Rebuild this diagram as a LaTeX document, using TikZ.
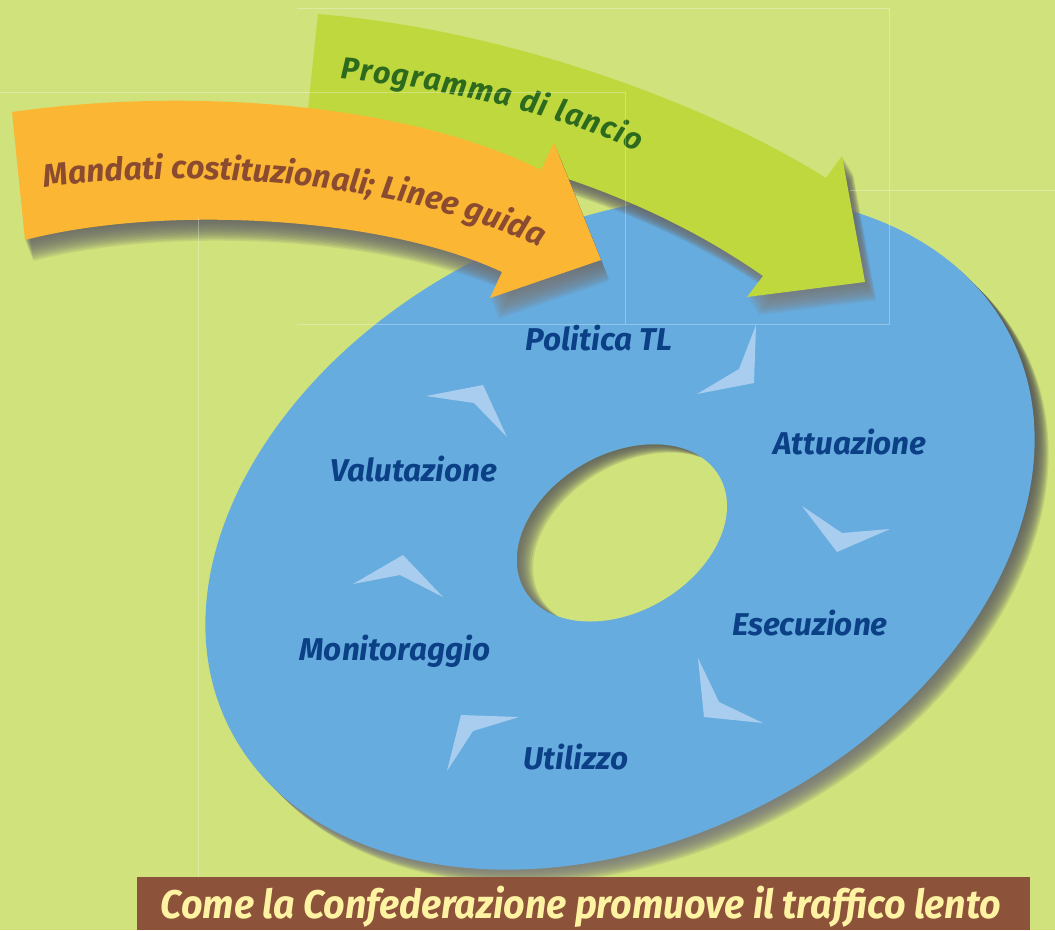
\documentclass[tikz,border=0pt]{standalone}
\usepackage{fontspec}
\usetikzlibrary{decorations.text}
\newfontfamily\labelfont{Fira Sans}
\newfontfamily\bannerfont{Fira Sans}[FakeStretch=0.94]

\definecolor{bg}{HTML}{D0E27B}
\definecolor{ring}{HTML}{66ACDF}
\definecolor{chev}{HTML}{A8CDEF}
\definecolor{orangearr}{HTML}{FBB634}
\definecolor{greenarr}{HTML}{BED83D}
\definecolor{navy}{HTML}{0B3F86}
\definecolor{rust}{HTML}{8A4B30}
\definecolor{leaf}{HTML}{2D6A1E}
\definecolor{banner}{HTML}{8C523A}
\definecolor{cream}{HTML}{FEF3A3}
\definecolor{shade}{HTML}{1A2408}

% outlines reused for fills and shadows
\def\ringpath{[rotate around={26.5:(620,532)}] (620,532) ellipse [x radius=437pt, y radius=308pt]}
\def\holepath{[rotate around={30.3:(622,533)}] (622,533) ellipse [x radius=112.6pt, y radius=78.6pt]}
\def\orangepath{(12,112) .. controls (180,88) and (400,100) .. (541,170) -- (554,143) -- (601,260) -- (490,298) -- (502,272) .. controls (380,215) and (160,205) .. (25,240) -- cycle}
\def\greenpath{(318,14) .. controls (510,30) and (710,105) .. (826,178) -- (842,156) -- (865,282) -- (747,297) -- (763,276) .. controls (640,190) and (480,140) .. (306,128) -- cycle}

\tikzset{
  steplabel/.style={font=\labelfont\bfseries\itshape\fontsize{31.5}{31.5}\selectfont, text=navy, anchor=base, inner sep=0pt},
  chevron/.style={fill=chev},
  faint/.style={draw=white, opacity=0.3, line width=0.8pt},
}

\begin{document}
\begin{tikzpicture}[x=1pt, y=-1pt]
\useasboundingbox (0,0) rectangle (1055,930);
\fill[bg] (0,0) rectangle (1055,930);

% soft shadow of the ring
\foreach \k in {1,...,14} {
  \fill[shade, opacity=0.075, shift={({\k*1.0},{\k*1.0})}] \ringpath;
}
\fill[ring] \ringpath;

% hole with inner shadow
\begin{scope}
  \clip \holepath;
  \fill[bg] (0,0) rectangle (1055,930);
  \foreach \k in {1,...,10} {
    \fill[shade, opacity=0.09, even odd rule, shift={({\k*1.6},{\k*0.8})}]
      (300,200) rectangle (950,850) \holepath;
  }
\end{scope}

% chevrons between the steps
\fill[chevron] (756,325) -- (754,383) -- (697,394) -- (739,369) -- cycle;
\fill[chevron] (802,506) -- (837,552) -- (890,529) -- (842,533) -- cycle;
\fill[chevron] (698,658) -- (704,717) -- (763,723) -- (719,702) -- cycle;
\fill[chevron] (447,771) -- (461,715) -- (519,717) -- (473,731) -- cycle;
\fill[chevron] (353,584) -- (403,555) -- (443,597) -- (400,575) -- cycle;
\fill[chevron] (426,396) -- (483,385) -- (507,437) -- (474,403) -- cycle;

% step labels
\node[steplabel] (politica)  at (599,350) {Politica TL};
\node[steplabel] (attuazione) at (850,454) {Attuazione};
\node[steplabel] (esecuzione) at (810,635) {Esecuzione};
\node[steplabel] (utilizzo)  at (576,769) {Utilizzo};
\node[steplabel] (monitor)   at (395,660) {Monitoraggio};
\node[steplabel] (valutazione) at (414,481) {Valutazione};

% green arrow
\foreach \k in {1,...,14} {
  \fill[shade, opacity=0.07, shift={({\k*0.8},{\k*1.3})}] \greenpath;
}
\fill[greenarr] \greenpath;
\path[decorate, decoration={text along path, text align=fit to path,
  text={|\labelfont\bfseries\itshape\fontsize{30.5}{30.5}\selectfont\color{leaf}|Programma di lancio}}]
  (340,79) .. controls (440,87) and (555,112) .. (637,152);

% orange arrow
\foreach \k in {1,...,14} {
  \fill[shade, opacity=0.07, shift={({\k*0.6},{\k*1.5})}] \orangepath;
}
\fill[orangearr] \orangepath;
\path[decorate, decoration={text along path, text align={left indent=0pt},
  text={|\labelfont\bfseries\itshape\fontsize{32}{32}\selectfont\color{rust}|Mandati costituzionali; Linee guida}}]
  (45,188) .. controls (200,165) and (420,185) .. (548,252);

% faint frame lines
\draw[faint] (297,8) -- (889,8) -- (889,324) -- (297,324);
\draw[faint] (0,92) -- (625,92) -- (625,324);
\draw[faint] (198,218) -- (198,877);
\draw[faint] (850,190) -- (1055,190);

% title banner
\fill[banner] (137,877) rectangle (1030,930);
\node[font=\bannerfont\bfseries\itshape\fontsize{40}{40}\selectfont, text=cream, anchor=base, inner sep=0pt] (title) at (581,918) {Come la Confederazione promuove il traffico lento};
\end{tikzpicture}
\end{document}
